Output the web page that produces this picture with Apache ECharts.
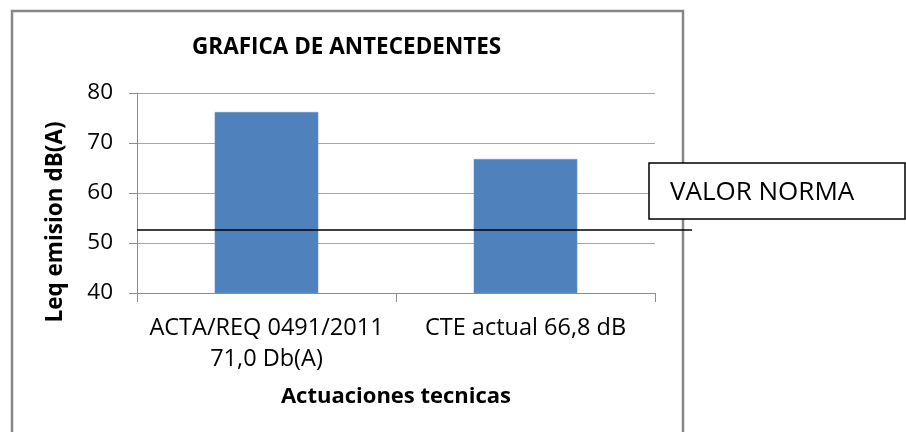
<!DOCTYPE html>
<html lang="es">
<head>
<meta charset="UTF-8">
<title>Grafica de antecedentes</title>
<script src="https://cdn.jsdelivr.net/npm/echarts@6.0.0/dist/echarts.min.js"></script>
<style>
html, body { margin: 0; padding: 0; background: #fff; }
#chart { width: 906px; height: 432px; }
</style>
</head>
<body>
<div id="chart"></div>
<script>
// datos
const categories = ['ACTA/REQ 0491/2011\n71,0 Db(A)', 'CTE actual 66,8 dB'];
const leqValues = [76.2, 66.8];
const normaValue = 52.6;
const yTicks = [40, 50, 60, 70, 80];

const font = 'Open Sans';
const chart = echarts.init(document.getElementById('chart'), null, { renderer: 'canvas' });

const option = {
  animation: false,
  backgroundColor: '#fff',
  title: {
    text: 'GRAFICA DE ANTECEDENTES',
    left: 192,
    top: 35,
    padding: 0,
    textStyle: { fontFamily: font, fontSize: 22.5, fontWeight: 'bold', color: '#000', lineHeight: 26 }
  },
  grid: { left: 137, right: 251, top: 93, bottom: 139, containLabel: false },
  xAxis: {
    type: 'category',
    data: categories,
    name: 'Actuaciones tecnicas',
    nameLocation: 'middle',
    nameGap: 93,
    nameTextStyle: { fontFamily: font, fontSize: 22, fontWeight: 'bold', color: '#000' },
    axisLine: { lineStyle: { color: '#8c8c8c', width: 1 } },
    axisTick: { show: true, length: 9, alignWithLabel: false, lineStyle: { color: '#8c8c8c' } },
    axisLabel: { fontFamily: font, fontSize: 23.5, color: '#000', lineHeight: 31, margin: 20, interval: 0 }
  },
  yAxis: {
    type: 'value',
    min: yTicks[0],
    max: yTicks[yTicks.length - 1],
    interval: 10,
    name: 'Leq emision dB(A)',
    nameLocation: 'middle',
    nameGap: 70,
    nameTextStyle: { fontFamily: font, fontSize: 22.5, fontWeight: 'bold', color: '#000', padding: [0, 58, 0, 0] },
    axisLine: { show: true, lineStyle: { color: '#8c8c8c', width: 1 } },
    axisTick: { show: true, length: 8, lineStyle: { color: '#8c8c8c' } },
    axisLabel: { fontFamily: font, fontSize: 22.5, color: '#000', margin: 24 },
    splitLine: { lineStyle: { color: '#a6a6a6', width: 1 } }
  },
  series: [{
    type: 'bar',
    data: leqValues,
    barWidth: '40%',
    itemStyle: { color: '#4f81bd', borderColor: '#6d95c8', borderWidth: 0.5 },
    markLine: {
      silent: true,
      symbol: 'none',
      label: { show: false },
      lineStyle: { color: '#000', width: 1.6, type: 'solid' },
      data: [[{ yAxis: normaValue, x: 137 }, { yAxis: normaValue, x: 692 }]]
    }
  }],
  graphic: [
    {
      type: 'rect',
      z: 0,
      silent: true,
      shape: { x: 12, y: 11, width: 671, height: 440 },
      style: { fill: null, stroke: '#878787', lineWidth: 2.5 }
    },
    {
      type: 'rect',
      z: 50,
      silent: true,
      shape: { x: 649, y: 163, width: 256, height: 56 },
      style: { fill: '#fff', stroke: '#000', lineWidth: 1.5 }
    },
    {
      type: 'text',
      z: 51,
      silent: true,
      x: 670,
      y: 193,
      style: { text: 'VALOR NORMA', fontFamily: font, fontSize: 26, fill: '#000', align: 'left', verticalAlign: 'middle' }
    }
  ]
};
chart.setOption(option);
</script>
</body>
</html>
